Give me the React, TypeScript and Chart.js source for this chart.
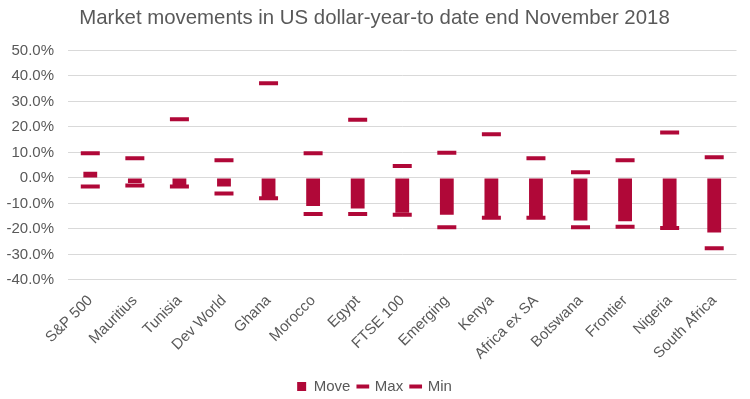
import React, { useEffect, useRef } from "react";
import { Chart, registerables } from "chart.js";

Chart.register(...registerables);

const categories = ["S&P 500", "Mauritius", "Tunisia", "Dev World", "Ghana", "Morocco", "Egypt", "FTSE 100", "Emerging", "Kenya", "Africa ex SA", "Botswana", "Frontier", "Nigeria", "South Africa"];
const moveValues = [2.4, -2.0, -3.5, -3.4, -7.8, -11.0, -12.0, -13.7, -14.4, -15.3, -15.2, -16.7, -17.0, -19.3, -21.4];
const maxValues = [9.7, 7.7, 23.0, 6.9, 37.1, 9.7, 22.8, 4.7, 9.9, 17.1, 7.7, 2.2, 6.9, 17.8, 8.1];
const minValues = [-3.4, -3.0, -3.4, -6.1, -8.0, -14.1, -14.1, -14.4, -19.3, -15.6, -15.6, -19.3, -19.1, -19.6, -27.6];

const COLOR = "#B00838";
const TEXT = "#595959";
const FONT = "'Liberation Sans', Arial, sans-serif";

export default function App() {
  const ref = useRef<HTMLCanvasElement | null>(null);
  useEffect(() => {
    if (!ref.current) return;
    const chart = new Chart(ref.current, {
      type: "bar",
      data: {
        labels: categories,
        datasets: [
          {
            type: "bar",
            label: "Move",
            data: moveValues,
            backgroundColor: COLOR,
            borderColor: COLOR,
            borderWidth: 0,
            barPercentage: 0.62,
            categoryPercentage: 0.5,
            pointStyle: "rect",
            order: 2,
          } as any,
          {
            type: "line",
            label: "Max",
            data: maxValues,
            showLine: false,
            borderColor: COLOR,
            backgroundColor: COLOR,
            borderWidth: 2.5,
            pointStyle: "line",
            pointRadius: 9.5,
            pointHoverRadius: 9.5,
            pointBorderWidth: 4,
            pointBorderColor: COLOR,
            order: 1,
          } as any,
          {
            type: "line",
            label: "Min",
            data: minValues,
            showLine: false,
            borderColor: COLOR,
            backgroundColor: COLOR,
            borderWidth: 2.5,
            pointStyle: "line",
            pointRadius: 9.5,
            pointHoverRadius: 9.5,
            pointBorderWidth: 4,
            pointBorderColor: COLOR,
            order: 1,
          } as any,
        ],
      },
      options: {
        responsive: false,
        animation: false,
        layout: { padding: { left: 6, right: 7, top: 0, bottom: -5 } },
        plugins: {
          title: {
            display: true,
            text: "Market movements in US dollar-year-to date end November 2018",
            color: TEXT,
            font: { family: FONT, size: 20.4, weight: "normal" },
            padding: { top: 6, bottom: 20 },
          },
          legend: {
            position: "bottom",
            labels: {
              usePointStyle: true,
              boxWidth: 9,
              boxHeight: 9,
              color: TEXT,
              font: { family: FONT, size: 15 },
              padding: 8,
              sort: (a: any, b: any) => a.datasetIndex - b.datasetIndex,
            },
          },
          tooltip: { enabled: false },
        },
        scales: {
          x: {
            grid: { display: false },
            border: { display: false },
            afterFit: (scale: any) => {
              scale.height += 4;
              scale.paddingLeft = 0;
              scale.paddingRight = 0;
            },
            ticks: {
              color: TEXT,
              font: { family: FONT, size: 15 },
              maxRotation: 45,
              minRotation: 45,
              autoSkip: false,
              padding: 4,
            },
          },
          y: {
            min: -40,
            max: 50,
            grid: { color: "#D9D9D9", lineWidth: 1, drawTicks: false },
            border: { display: false },
            afterFit: (scale: any) => {
              scale.width = 62;
            },
            ticks: {
              stepSize: 10,
              color: TEXT,
              padding: 14,
              font: { family: FONT, size: 15 },
              callback: (v: any) => Number(v).toFixed(1) + "%",
            },
          },
        },
      },
    });
    return () => chart.destroy();
  }, []);
  return (
    <div style={{ position: "fixed", left: 0, top: 0, width: 750, height: 399, background: "#fff" }}>
      <canvas ref={ref} width={750} height={399} />
    </div>
  );
}
